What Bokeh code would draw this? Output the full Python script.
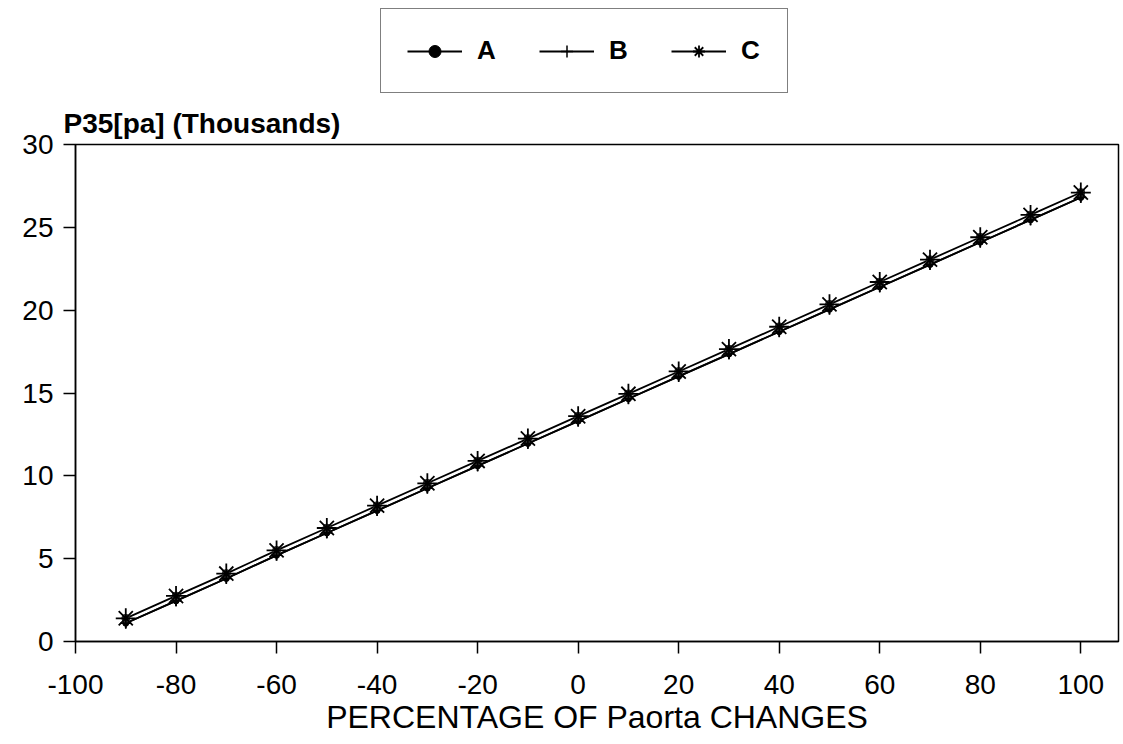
from bokeh.plotting import figure
from bokeh.layouts import column
from bokeh.models import Legend, LegendItem, FixedTicker, Range1d, Title, ColumnDataSource
from bokeh.embed import file_html
from bokeh.resources import INLINE

# Data (values in thousands of Pa)
pct_change = [-90, -80, -70, -60, -50, -40, -30, -20, -10, 0,
              10, 20, 30, 40, 50, 60, 70, 80, 90, 100]
series_a = [1.1, 2.45, 3.8, 5.2, 6.55, 7.9, 9.25, 10.6, 11.95, 13.3,
            14.65, 16.0, 17.35, 18.7, 20.05, 21.4, 22.75, 24.1, 25.45, 26.8]
series_b = [1.1, 2.45, 3.8, 5.2, 6.55, 7.9, 9.25, 10.6, 11.95, 13.3,
            14.65, 16.0, 17.35, 18.7, 20.05, 21.4, 22.75, 24.1, 25.45, 26.8]
series_c = [1.4, 2.75, 4.1, 5.5, 6.85, 8.2, 9.55, 10.9, 12.25, 13.6,
            14.95, 16.3, 17.65, 19.0, 20.35, 21.7, 23.05, 24.4, 25.75, 27.1]
series_names = ["A", "B", "C"]
x_ticks = [-100, -80, -60, -40, -20, 0, 20, 40, 60, 80, 100]
x_tick_labels = ["-100", "-80", "-60", "-40", "-20", "0", "20", "40", "60", "80", "100"]
y_ticks = [0, 5, 10, 15, 20, 25, 30]

FONT = "Liberation Sans"
W = 1120

# ---- main chart ----
p = figure(width=W, height=644, output_backend="svg", toolbar_location=None,
           x_range=Range1d(-100, 107.5), y_range=Range1d(0, 30),
           min_border_left=75, min_border_right=2, min_border_top=42,
           min_border_bottom=103)
p.grid.visible = False
p.outline_line_color = "black"
p.outline_line_width = 1.5
p.background_fill_color = "white"
p.border_fill_color = "white"

t = Title(text="P35[pa] (Thousands)", align="left", offset=-12,
          text_font=FONT, text_font_size="28px", text_font_style="bold",
          text_color="black", standoff=11)
p.add_layout(t, "above")

for ax in (p.xaxis, p.yaxis):
    ax.axis_line_color = "black"
    ax.axis_line_width = 1.5
    ax.major_tick_line_color = "black"
    ax.major_tick_line_width = 1.5
    ax.major_tick_out = 12
    ax.major_tick_in = 0
    ax.minor_tick_line_color = None
    ax.major_label_text_font = FONT
    ax.major_label_text_font_size = "28px"
    ax.major_label_text_color = "black"

p.xaxis.ticker = FixedTicker(ticks=x_ticks)
p.xaxis.major_label_overrides = {v: s for v, s in zip(x_ticks, x_tick_labels)}
p.yaxis.ticker = FixedTicker(ticks=y_ticks)
p.xaxis.major_label_standoff = 21
p.yaxis.major_label_standoff = 10
p.xaxis.axis_label = "PERCENTAGE OF Paorta CHANGES"
p.xaxis.axis_label_text_font = FONT
p.xaxis.axis_label_text_font_size = "32px"
p.xaxis.axis_label_text_font_style = "normal"
p.xaxis.axis_label_text_color = "black"
p.xaxis.axis_label_standoff = 2

p.line(pct_change, series_a, line_color="black", line_width=1.8)
p.scatter(pct_change, series_a, marker="circle", size=6,
          fill_color="black", line_color="black")
p.line(pct_change, series_b, line_color="black", line_width=1.8)
p.scatter(pct_change, series_b, marker="cross", size=11,
          line_color="black", line_width=1.5)
p.line(pct_change, series_c, line_color="black", line_width=1.8)
p.scatter(pct_change, series_c, marker="circle", size=8,
          fill_color="#333333", line_color="#333333")
p.scatter(pct_change, series_c, marker="asterisk", size=20,
          line_color="black", line_width=1.8)

# ---- legend strip (separate figure so the box can sit above the title) ----
lf = figure(width=W, height=100, output_backend="svg", toolbar_location=None,
            x_range=Range1d(0, 1), y_range=Range1d(0, 1),
            x_axis_type=None, y_axis_type=None,
            min_border_left=0, min_border_right=0, min_border_top=0,
            min_border_bottom=0)
lf.grid.visible = False
lf.outline_line_color = None
lf.background_fill_color = "white"
lf.border_fill_color = "white"

# off-screen placeholder points: only their legend swatches are visible
offscreen = ColumnDataSource(data=dict(x=[-5, -4], y=[-5, -4]))
ra_l = lf.line("x", "y", source=offscreen, line_color="black", line_width=1.8)
ra_m = lf.scatter("x", "y", source=offscreen, marker="circle", size=6,
                  fill_color="black", line_color="black")
rb_l = lf.line("x", "y", source=offscreen, line_color="black", line_width=1.8)
rb_m = lf.scatter("x", "y", source=offscreen, marker="cross", size=14,
                  line_color="black", line_width=1.5)
rc_l = lf.line("x", "y", source=offscreen, line_color="black", line_width=1.8)
rc_m = lf.scatter("x", "y", source=offscreen, marker="asterisk", size=16,
                  line_color="black", line_width=1.8)

legend = Legend(items=[LegendItem(label=series_names[0], renderers=[ra_l, ra_m]),
                       LegendItem(label=series_names[1], renderers=[rb_l, rb_m]),
                       LegendItem(label=series_names[2], renderers=[rc_l, rc_m])],
                orientation="horizontal", location=(305, 7),
                glyph_width=55, glyph_height=30, label_standoff=15,
                spacing=42, padding=26, label_width=20,
                label_text_font=FONT, label_text_font_size="26px",
                label_text_font_style="bold", label_text_color="black",
                border_line_color="black", border_line_width=1.5,
                background_fill_color="white", background_fill_alpha=1.0)
lf.add_layout(legend, "center")

layout = column(lf, p, spacing=0)
open("out.html", "w").write(file_html(layout, INLINE))
